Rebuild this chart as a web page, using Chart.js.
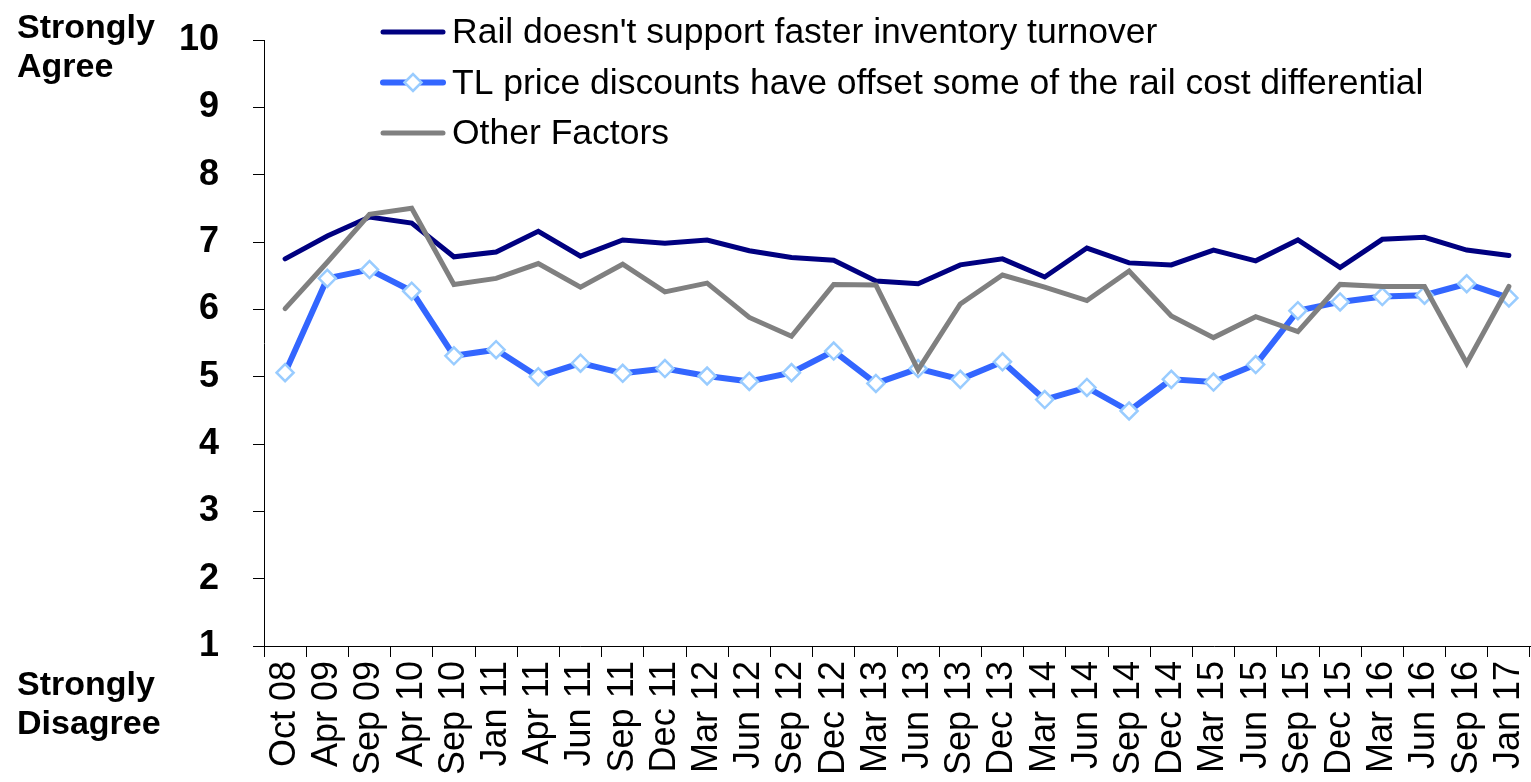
<!DOCTYPE html>
<html>
<head>
<meta charset="utf-8">
<script src="https://cdn.jsdelivr.net/npm/chart.js@4"></script>
<style>
  body { margin: 0; background: #fff; overflow: hidden; }
  #wrap { position: relative; width: 1531px; height: 782px; overflow: hidden; }
  #chart { position: absolute; left: 0; top: 0; }
  .side {
    position: absolute;
    left: 17px;
    font-family: "Liberation Sans", Arial, sans-serif;
    font-weight: bold;
    font-size: 34px;
    line-height: 39px;
    color: #000;
  }
</style>
</head>
<body>
<div id="wrap">
  <!-- a little wider than the page: Chart.js keeps ~11px free on the right -->
  <canvas id="chart" width="1541" height="782"></canvas>
  <div class="side" style="top:7px">Strongly<br>Agree</div>
  <div class="side" style="top:664px">Strongly<br>Disagree</div>
</div>
<script>
// survey dates
const labels = ['Oct 08','Apr 09','Sep 09','Apr 10','Sep 10','Jan 11','Apr 11','Jun 11','Sep 11','Dec 11',
                'Mar 12','Jun 12','Sep 12','Dec 12','Mar 13','Jun 13','Sep 13','Dec 13','Mar 14','Jun 14',
                'Sep 14','Dec 14','Mar 15','Jun 15','Sep 15','Dec 15','Mar 16','Jun 16','Sep 16','Jan 17'];

const railTurnover = [6.75, 7.09, 7.37, 7.28, 6.78, 6.85, 7.16, 6.79, 7.03, 6.98,
                      7.03, 6.87, 6.77, 6.73, 6.42, 6.38, 6.66, 6.75, 6.48, 6.91,
                      6.69, 6.66, 6.88, 6.72, 7.03, 6.62, 7.04, 7.07, 6.88, 6.80];

const tlDiscounts = [5.06, 6.46, 6.59, 6.27, 5.31, 5.40, 5.00, 5.20, 5.05, 5.12,
                     5.01, 4.93, 5.06, 5.38, 4.90, 5.12, 4.96, 5.22, 4.66, 4.84,
                     4.49, 4.96, 4.92, 5.18, 5.98, 6.11, 6.19, 6.21, 6.38, 6.17];

const otherFactors = [6.01, 6.70, 7.41, 7.50, 6.37, 6.46, 6.68, 6.33, 6.67, 6.26,
                      6.39, 5.88, 5.60, 6.37, 6.36, 5.10, 6.08, 6.51, 6.33, 6.13,
                      6.57, 5.90, 5.58, 5.89, 5.67, 6.37, 6.34, 6.34, 5.20, 6.34];

const seriesNames = [
  "Rail doesn't support faster inventory turnover",
  "TL price discounts have offset some of the rail cost differential",
  "Other Factors"
];

const FONT = '"Liberation Sans", Arial, sans-serif';

// legend sits over the top of the plot, so draw it by hand
const overlayLegend = {
  id: 'overlayLegend',
  afterDraw(chart) {
    const ctx = chart.ctx;
    chart.data.datasets.forEach((ds, i) => {
      const y = 32 + i * 50.5;
      ctx.save();
      ctx.strokeStyle = ds.borderColor;
      ctx.lineWidth = ds.borderWidth;
      ctx.lineCap = 'round';
      ctx.beginPath();
      ctx.moveTo(383, y);
      ctx.lineTo(443, y);
      ctx.stroke();
      if (ds.pointRadius > 0) {
        const r = ds.pointRadius;
        ctx.beginPath();
        ctx.moveTo(413 - r, y);
        ctx.lineTo(413, y - r);
        ctx.lineTo(413 + r, y);
        ctx.lineTo(413, y + r);
        ctx.closePath();
        ctx.fillStyle = ds.pointBackgroundColor;
        ctx.fill();
        ctx.lineWidth = ds.pointBorderWidth;
        ctx.strokeStyle = ds.pointBorderColor;
        ctx.stroke();
      }
      ctx.fillStyle = '#000';
      ctx.font = '35.5px ' + FONT;
      ctx.textBaseline = 'alphabetic';
      ctx.fillText(ds.label, 452, y + 11);
      ctx.restore();
    });
  }
};

new Chart(document.getElementById('chart'), {
  type: 'line',
  data: {
    labels: labels,
    datasets: [
      {
        label: seriesNames[0],
        data: railTurnover,
        borderColor: '#000080',
        borderWidth: 5,
        pointRadius: 0,
        borderCapStyle: 'round',
        tension: 0,
        order: 2
      },
      {
        label: seriesNames[1],
        data: tlDiscounts,
        borderColor: '#3366FF',
        borderWidth: 6,
        pointStyle: 'rectRot',
        pointRadius: 8.5,
        pointBorderWidth: 2.5,
        pointBorderColor: '#99CCFF',
        pointBackgroundColor: '#FFFFFF',
        borderCapStyle: 'round',
        tension: 0,
        order: 1
      },
      {
        label: seriesNames[2],
        data: otherFactors,
        borderColor: '#808080',
        borderWidth: 5,
        pointRadius: 0,
        borderCapStyle: 'round',
        tension: 0,
        order: 0
      }
    ]
  },
  options: {
    responsive: false,
    animation: false,
    layout: { padding: { top: 40, right: 0, left: 0, bottom: 0 } },
    plugins: {
      legend: { display: false },
      tooltip: { enabled: false }
    },
    scales: {
      x: {
        offset: true,
        grid: { offset: true, drawOnChartArea: false, drawTicks: true, tickLength: 11, color: '#000' },
        border: { display: true, color: '#000', width: 1 },
        ticks: {
          autoSkip: false,
          minRotation: 90,
          maxRotation: 90,
          padding: 4,
          color: '#000',
          font: { family: FONT, size: 36 }
        },
        afterFit(scale) {
          scale.height = 136;
          scale.paddingLeft = 0;
          scale.paddingRight = 0;
        }
      },
      y: {
        min: 1,
        max: 10,
        grid: { drawOnChartArea: false, drawTicks: true, tickLength: 11, color: '#000' },
        border: { display: true, color: '#000', width: 1 },
        ticks: {
          stepSize: 1,
          padding: 34,
          color: '#000',
          font: { family: FONT, size: 36, weight: 'bold' }
        },
        afterFit(scale) {
          scale.width = 264;
          scale.paddingTop = 0;
          scale.paddingBottom = 0;
        }
      }
    }
  },
  plugins: [overlayLegend]
});
</script>
</body>
</html>
